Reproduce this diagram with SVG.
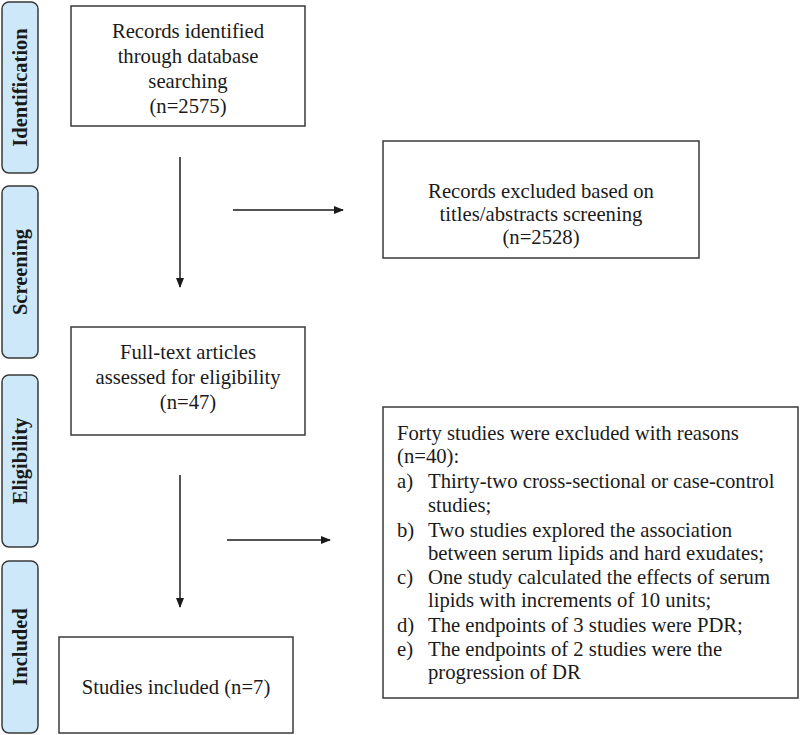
<svg xmlns="http://www.w3.org/2000/svg" width="800" height="735" viewBox="0 0 800 735">
<style>
.side rect{fill:#cde8f8;stroke:#3a3a3a;stroke-width:1.5}
.side text{font-family:"Liberation Serif","Times New Roman",serif;font-weight:bold;font-size:20.5px;fill:#1a1a1a;text-anchor:middle}
.box rect{fill:#fff;stroke:#3a3a3a;stroke-width:1.5}
.box text{font-family:"Liberation Serif","Times New Roman",serif;font-size:20.7px;fill:#1a1a1a}
.c{text-anchor:middle}
.conn line{stroke:#1a1a1a;stroke-width:1.5}
</style>
<defs>
<marker id="ah" markerWidth="10" markerHeight="8" refX="9" refY="4" orient="auto" markerUnits="userSpaceOnUse">
<path d="M0,0 L10,4 L0,8 Z" fill="#1a1a1a"/>
</marker>
</defs>
<rect width="800" height="735" fill="#fff"/>
<g id="side-identification" class="side"><rect x="2" y="2" width="36" height="171" rx="7"/><text transform="translate(27,87.5) rotate(-90)">Identification</text></g>
<g id="side-screening" class="side"><rect x="2" y="186" width="36" height="172" rx="7"/><text transform="translate(27,272) rotate(-90)">Screening</text></g>
<g id="side-eligibility" class="side"><rect x="2" y="375" width="36" height="172" rx="7"/><text transform="translate(27,461) rotate(-90)">Eligibility</text></g>
<g id="side-included" class="side"><rect x="2" y="561" width="36" height="172" rx="7"/><text transform="translate(27,647) rotate(-90)">Included</text></g>
<g id="identified" class="box"><rect x="71" y="6" width="234" height="120"/>
<text class="c" x="188" y="38">Records identified</text>
<text class="c" x="188" y="63">through database</text>
<text class="c" x="188" y="88">searching</text>
<text class="c" x="188" y="113">(n=2575)</text></g>
<g id="excluded1" class="box"><rect x="383" y="141" width="316" height="117"/>
<text class="c" x="541" y="198">Records excluded based on</text>
<text class="c" x="541" y="221">titles/abstracts screening</text>
<text class="c" x="541" y="244">(n=2528)</text></g>
<g id="fulltext" class="box"><rect x="71" y="327" width="234" height="108"/>
<text class="c" x="188" y="359">Full-text articles</text>
<text class="c" x="188" y="384">assessed for eligibility</text>
<text class="c" x="188" y="409">(n=47)</text></g>
<g id="excluded2" class="box"><rect x="383" y="407" width="415" height="291"/>
<text x="397" y="440">Forty studies were excluded with reasons</text>
<text x="397" y="463">(n=40):</text>
<text x="397" y="488">a)</text><text x="428" y="488">Thirty-two cross-sectional or case-control</text>
<text x="428" y="512">studies;</text>
<text x="397" y="537">b)</text><text x="428" y="537">Two studies explored the association</text>
<text x="428" y="560">between serum lipids and hard exudates;</text>
<text x="397" y="584">c)</text><text x="428" y="584">One study calculated the effects of serum</text>
<text x="428" y="607">lipids with increments of 10 units;</text>
<text x="397" y="632">d)</text><text x="428" y="632">The endpoints of 3 studies were PDR;</text>
<text x="397" y="656">e)</text><text x="428" y="656">The endpoints of 2 studies were the</text>
<text x="428" y="679">progression of DR</text></g>
<g id="included" class="box"><rect x="59" y="637" width="234" height="96"/>
<text class="c" x="176" y="694">Studies included (n=7)</text></g>
<g id="connectors" class="conn">
<line x1="180" y1="157" x2="180" y2="287" marker-end="url(#ah)"/>
<line x1="233" y1="210" x2="343" y2="210" marker-end="url(#ah)"/>
<line x1="180" y1="475" x2="180" y2="607" marker-end="url(#ah)"/>
<line x1="227" y1="540" x2="330" y2="540" marker-end="url(#ah)"/>
</g>
</svg>
